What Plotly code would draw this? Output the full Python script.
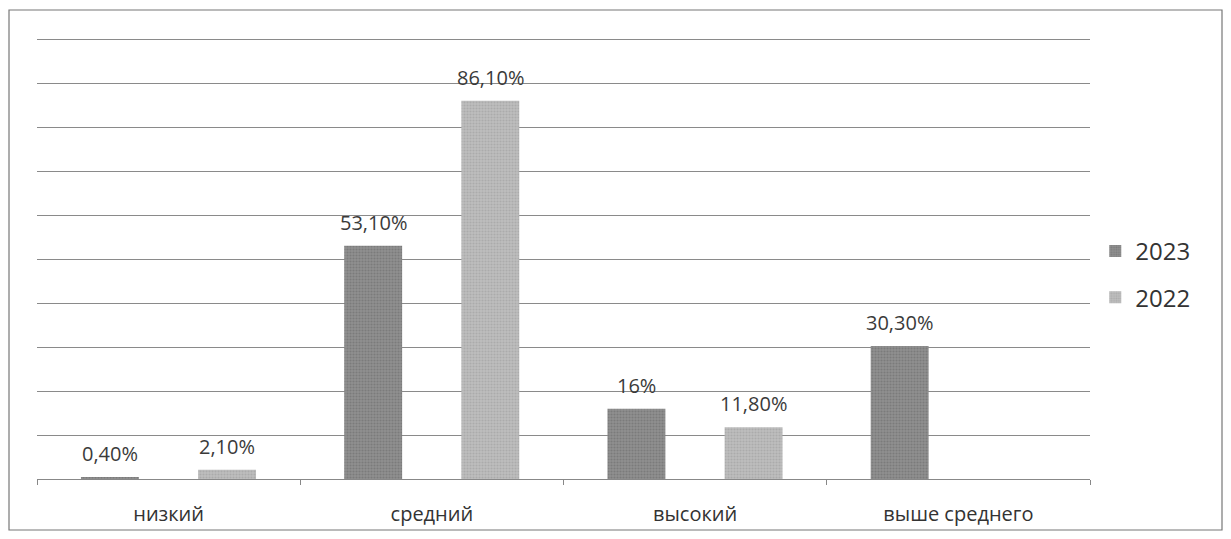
import plotly.graph_objects as go

categories = ["низкий", "средний", "высокий", "выше среднего"]
values_2023 = [0.4, 53.1, 16.0, 30.3]
values_2022 = [2.1, 86.1, 11.8, None]
labels_2023 = ["0,40%", "53,10%", "16%", "30,30%"]
labels_2022 = ["2,10%", "86,10%", "11,80%", ""]

font_family = "Open Sans, Noto Sans, DejaVu Sans, sans-serif"

W, H = 1215, 523
ML, MR, MT, MB = 29, 133, 30, 52
plot_w = W - ML - MR
BAR_W = 0.22
OFF_2023 = -0.333
OFF_2022 = 0.112

fig = go.Figure()
fig.add_trace(go.Bar(
    x=categories, y=values_2023, name="2023",
    marker=dict(color="#8a8a8a", line=dict(width=0),
                pattern=dict(shape=".", fgcolor="#656565", bgcolor="#909090", size=3, solidity=0.4)),
    width=BAR_W, offset=OFF_2023, legendgroup="a",
))
fig.add_trace(go.Bar(
    x=categories, y=values_2022, name="2022",
    marker=dict(color="#b8b8b8", line=dict(width=0),
                pattern=dict(shape=".", fgcolor="#979797", bgcolor="#bebebe", size=3, solidity=0.4)),
    width=BAR_W, offset=OFF_2022, legendgroup="b",
))

annotations = []
px_per_cat = plot_w / len(categories)
for vals, labs, off in ((values_2023, labels_2023, OFF_2023), (values_2022, labels_2022, OFF_2022)):
    for cat, v, lab in zip(categories, vals, labs):
        if v is None or not lab:
            continue
        annotations.append(dict(
            x=cat, y=v, xref="x", yref="y", text=lab, showarrow=False,
            xanchor="center", yanchor="bottom",
            xshift=(off + BAR_W / 2) * px_per_cat, yshift=8,
            font=dict(family=font_family, size=20, color="#3a3a3a"),
        ))

fig.update_layout(
    width=W, height=H,
    barmode="overlay",
    paper_bgcolor="white", plot_bgcolor="white",
    margin=dict(l=ML, r=MR, t=MT, b=MB),
    font=dict(family=font_family, size=20, color="#333"),
    showlegend=True,
    legend=dict(x=1.005, y=0.567, xanchor="left", yanchor="top",
                font=dict(size=24, color="#333"), tracegroupgap=12,
                traceorder="grouped", itemwidth=30, bgcolor="rgba(0,0,0,0)"),
    xaxis=dict(showline=True, linecolor="#888", linewidth=1.3, automargin=False,
               ticks="outside", tickson="boundaries", ticklen=5, tickcolor="#888",
               tickfont=dict(size=20, color="#333"), ticklabelstandoff=17, showgrid=False),
    yaxis=dict(range=[0, 100.4], dtick=10, showticklabels=False, showgrid=True, automargin=False,
               gridcolor="#8a8a8a", gridwidth=1.3, zeroline=False, showline=False),
    annotations=annotations,
    shapes=[dict(type="rect", xref="paper", yref="paper",
                 x0=-(ML - 1) / plot_w, x1=(W - 1 - ML) / plot_w,
                 y0=-(MB - 1) / (H - MT - MB), y1=(H - MB - 2) / (H - MT - MB),
                 line=dict(color="#777", width=1.2), fillcolor="rgba(0,0,0,0)", layer="below")],
)

fig.write_html("out.html")
